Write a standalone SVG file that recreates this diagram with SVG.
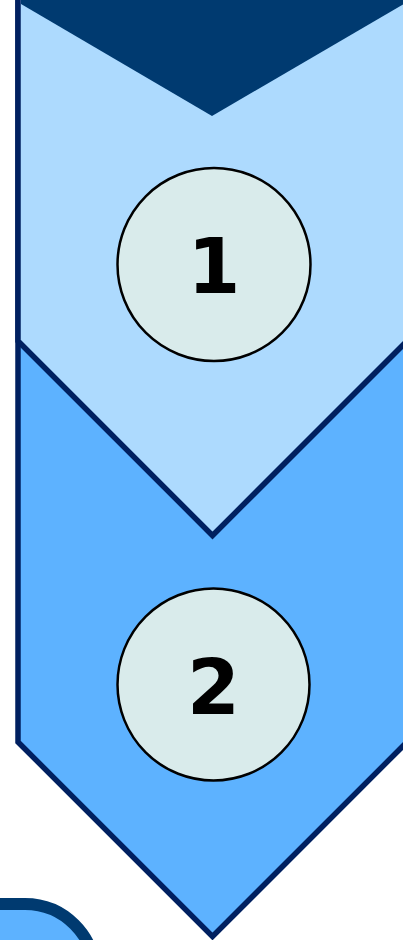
<svg xmlns="http://www.w3.org/2000/svg" width="403" height="940" viewBox="0 0 403 940">
<style>
.chev{stroke:#002060;stroke-width:5.5;stroke-linejoin:miter}
.badge{fill:#D9EBEB;stroke:#000;stroke-width:2.5}
.num{font-family:"DejaVu Sans","Liberation Sans",sans-serif;font-weight:bold;font-size:76px;fill:#000;text-anchor:middle}
</style>
<rect width="403" height="940" fill="#fff"/>
<g id="step2">
<polygon class="chev" fill="#5DB2FF" points="18,-20 18,742 212.5,936.5 412,737 412,-20"/>
</g>
<g id="step1">
<polygon class="chev" fill="#ADDAFE" points="18,-10 18,341 212.5,535.5 412,336 412,-10"/>
</g>
<g id="top-band">
<polygon fill="#003A70" points="21,-1 404,-1 404,4 212,116 21,4"/>
</g>
<g id="badge1">
<circle class="badge" cx="214" cy="264.5" r="96.5"/>
<text class="num" x="214" y="293">1</text>
</g>
<g id="badge2">
<circle class="badge" cx="213.5" cy="684.5" r="96"/>
<text class="num" x="213.5" y="714">2</text>
</g>
<g id="next-shape">
<rect x="-100" y="904" width="195" height="200" rx="70" fill="#5DB2FF" stroke="#003A70" stroke-width="12"/>
</g>
<g id="connectors"></g>
</svg>
